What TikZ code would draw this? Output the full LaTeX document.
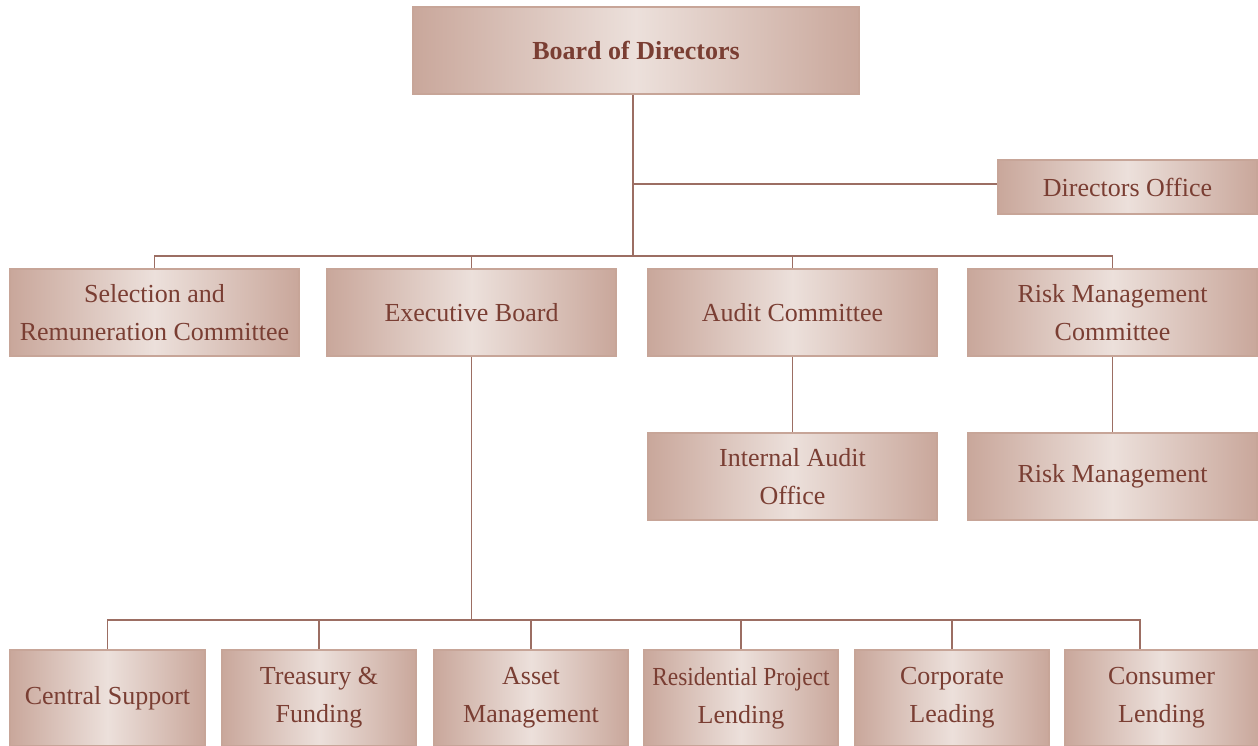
\documentclass[tikz,border=0pt]{standalone}
\usepackage{fontspec}
\setmainfont{Liberation Serif}
\usetikzlibrary{positioning}

\definecolor{boxedge}{HTML}{C7A598}
\definecolor{boxdark}{HTML}{C9A79B}
\definecolor{boxlight}{HTML}{ECE0DB}
\definecolor{inktext}{HTML}{7A3E33}
\definecolor{wire}{HTML}{9C6E63}

\tikzset{
	unit/.style={draw=boxedge, line width=2pt, left color=boxdark, right color=boxdark, middle color=boxlight,
		text=inktext, align=center, inner sep=2pt, minimum width=289pt, minimum height=87pt,
		font=\fontsize{26}{38}\selectfont},
	lower/.style={unit, minimum width=194pt, minimum height=96pt},
	wire/.style={draw=wire, line width=1.2pt}
}

\begin{document}
\begin{tikzpicture}[x=1pt,y=-1pt]
	\useasboundingbox[fill=white] (0,0) rectangle (1258,746);

	\node[unit, minimum width=446pt, font=\fontsize{26}{38}\selectfont\bfseries] (board) at (636,50.5) {Board of Directors};
	\node[unit, minimum width=259pt, minimum height=54pt] (office) at (1127.5,187) {Directors Office};

	\node[unit] (select) at (154.5,312.5) {Selection and\\Remuneration Committee};
	\node[unit] (exec) at (471.5,312.5) {Executive Board};
	\node[unit] (audit) at (792.5,312.5) {Audit Committee};
	\node[unit] (riskcom) at (1112.5,312.5) {Risk Management\\Committee};

	\node[unit] (intaudit) at (792.5,476.5) {Internal Audit\\Office};
	\node[unit] (riskmgmt) at (1112.5,476.5) {Risk Management};

	\node[lower, minimum width=195pt] (central) at (107.5,698) {Central Support};
	\node[lower] (treasury) at (319,698) {Treasury \&\\Funding};
	\node[lower] (asset) at (531,698) {Asset\\Management};
	\node[lower] (resid) at (741,698) {\scalebox{0.9}[1]{Residential Project}\\Lending};
	\node[lower] (corporate) at (952,698) {Corporate\\Leading};
	\node[lower] (consumer) at (1161.5,698) {Consumer\\Lending};

	\coordinate (tee) at (633,256);
	\coordinate (split) at (471.5,620);
	\coordinate (lastdrop) at ([xshift=-21.5pt]consumer.north);

	\draw[wire] (tee |- board.south) -- (tee);
	\draw[wire] (tee |- 0,184) -- (office.west |- 0,184);
	\draw[wire] (select.north) |- (tee) -| (riskcom.north);
	\draw[wire] (exec.north) -- (exec.north |- tee);
	\draw[wire] (audit.north) -- (audit.north |- tee);
	\draw[wire] (audit.south) -- (intaudit.north);
	\draw[wire] (riskcom.south) -- (riskmgmt.north);

	\draw[wire] (exec.south) -- (split);
	\draw[wire] (central.north) |- (split) -| (lastdrop);
	\draw[wire] (treasury.north) -- (treasury.north |- split);
	\draw[wire] (asset.north) -- (asset.north |- split);
	\draw[wire] (resid.north) -- (resid.north |- split);
	\draw[wire] (corporate.north) -- (corporate.north |- split);
\end{tikzpicture}
\end{document}
